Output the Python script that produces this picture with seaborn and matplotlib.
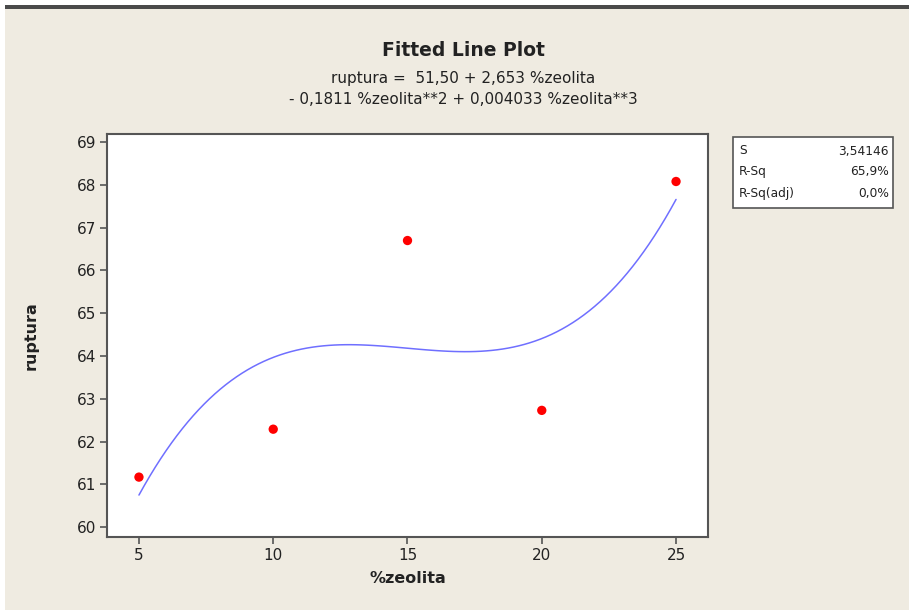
import matplotlib
matplotlib.use('Agg')
import matplotlib.pyplot as plt
from matplotlib.patches import Rectangle
import seaborn as sns
import pandas as pd

# data
zeolita = [5, 10, 15, 20, 25]
ruptura = [61.17, 62.29, 66.70, 62.73, 68.08]

x_ticks = [5, 10, 15, 20, 25]
y_ticks = [60, 61, 62, 63, 64, 65, 66, 67, 68, 69]

stats_names = ['S', 'R-Sq', 'R-Sq(adj)']
stats_values = ['3,54146', '65,9%', '0,0%']

title = 'Fitted Line Plot'
subtitle = 'ruptura =  51,50 + 2,653 %zeolita\n- 0,1811 %zeolita**2 + 0,004033 %zeolita**3'

df = pd.DataFrame({'%zeolita': zeolita, 'ruptura': ruptura})

sns.set_style('white')
plt.rcParams['font.family'] = ['DejaVu Sans']

bg = '#efebe1'
fig = plt.figure(figsize=(9.09, 6.10), dpi=100, facecolor='white')
W, H = 909, 610

# beige panel and dark top border
fig.patches.append(Rectangle((5 / W, 0), 1, 1 - 9 / H, transform=fig.transFigure,
                             facecolor=bg, edgecolor='none', zorder=-2))
fig.patches.append(Rectangle((5 / W, 1 - 9 / H), 1, 4 / H, transform=fig.transFigure,
                             facecolor='#4a4a4a', edgecolor='none', zorder=-2))

ax = fig.add_axes([107 / W, 1 - 537 / H, (708 - 107) / W, (537 - 134) / H])
ax.set_zorder(1)
ax.set_facecolor('white')

sns.regplot(data=df, x='%zeolita', y='ruptura', order=3, ci=None, ax=ax,
            scatter_kws={'color': '#ff0000', 's': 45, 'alpha': 1, 'edgecolor': 'none', 'zorder': 3},
            line_kws={'color': '#6f6fff', 'linewidth': 1.1})

ax.set_xlim(3.81, 26.19)
ax.set_ylim(59.77, 69.19)
ax.set_xticks(x_ticks)
ax.set_yticks(y_ticks)
ax.tick_params(axis='both', direction='out', length=5, width=1.2, color='#555555',
               labelsize=11, labelcolor='#222222', left=True, bottom=True, pad=3)
for s in ax.spines.values():
    s.set_color('#555555')
    s.set_linewidth(1.5)
    s.set_visible(True)

ax.set_xlabel('%zeolita', fontsize=11.5, fontweight='bold', color='#222222', labelpad=6)
ax.set_ylabel('ruptura', fontsize=11.5, fontweight='bold', color='#222222', labelpad=27)

fig.text(463 / W, 1 - 50 / H, title, ha='center', va='center', fontsize=13.5,
         fontweight='bold', color='#222222')
fig.text(463 / W, 1 - 89 / H, subtitle, ha='center', va='center', fontsize=11,
         color='#222222', linespacing=1.55)

# summary box
fig.patches.append(Rectangle((733 / W, 1 - 208 / H), 160 / W, 71 / H, transform=fig.transFigure,
                             facecolor='white', edgecolor='#555555', linewidth=1.2, zorder=2))
for i, (n, v) in enumerate(zip(stats_names, stats_values)):
    yy = 1 - (151 + i * 21) / H
    fig.text(739 / W, yy, n, ha='left', va='center', fontsize=8.8, color='#222222', zorder=3)
    fig.text(889 / W, yy, v, ha='right', va='center', fontsize=8.8, color='#222222', zorder=3)

fig.savefig('out.png', dpi=100, facecolor=fig.get_facecolor())
